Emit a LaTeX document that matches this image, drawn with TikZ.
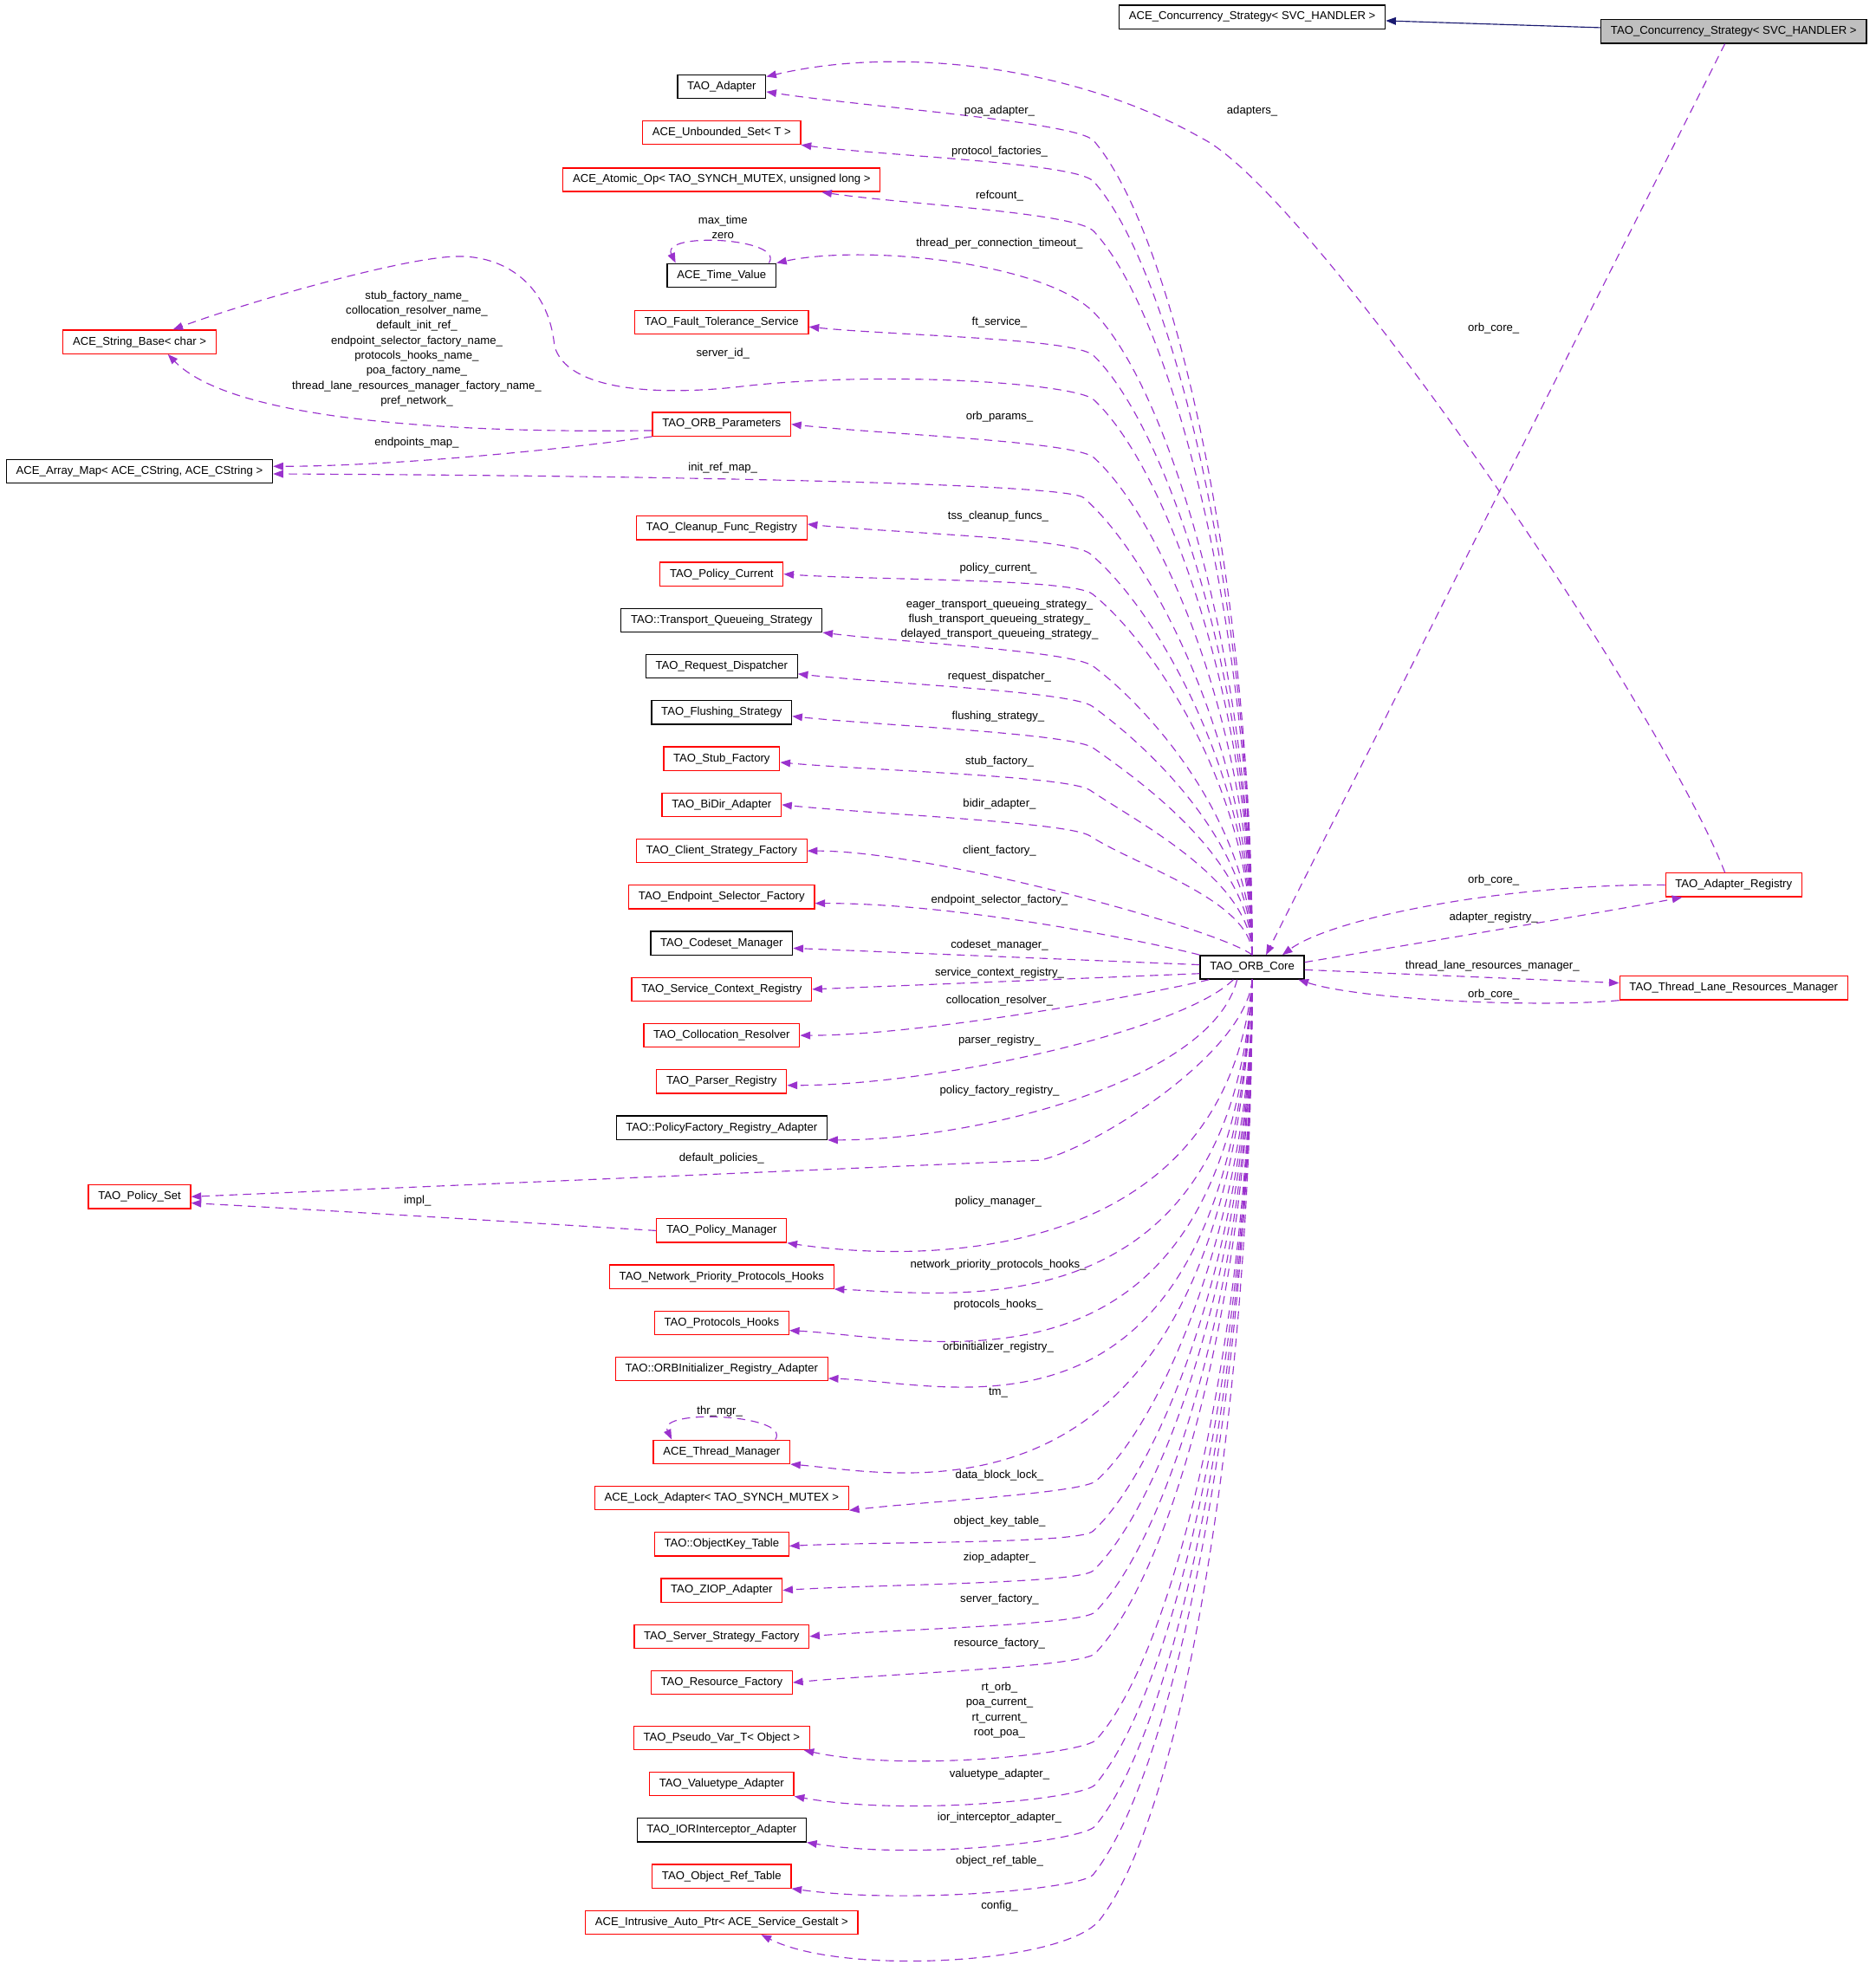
\documentclass[tikz,border=0pt]{standalone}
\usepackage{fontspec}
\setmainfont{Liberation Sans}
\usetikzlibrary{arrows.meta,positioning}
\definecolor{orchid}{HTML}{9A32CD}
\definecolor{navy}{HTML}{191970}
\definecolor{shaded}{HTML}{BFBFBF}
\begin{document}
\begin{tikzpicture}[x=0.2mm, y=-0.2mm, node distance={7.34mm}, font=\fontsize{5.15}{6.8}\selectfont,
			main/.style = {draw, rectangle, line width=0.5pt, minimum height=3.75mm, inner xsep=1.55mm, inner ysep=0pt},
			miss/.style = {main, draw=red},
			sel/.style = {main, fill=shaded},
			dep/.style = {draw=orchid, line width=0.45pt, dash pattern=on 1.3mm off 0.9mm, -{Triangle[length=1.6mm,width=1.2mm]}},
			inh/.style = {draw=navy, line width=0.45pt, -{Triangle[length=1.6mm,width=1.2mm]}},
			word/.style = {inner sep=0pt, align=center}]

			\useasboundingbox (0,0) rectangle (1492,1568);

			\node[main] (acs) at (996,13.5) {ACE\_Concurrency\_Strategy< SVC\_HANDLER >};
			\node[sel] (tcs) at (1379,25) {TAO\_Concurrency\_Strategy< SVC\_HANDLER >};
			\node[main] (core) at (996,769.5) {TAO\_ORB\_Core};
			\node[miss] (areg) at (1379,704) {TAO\_Adapter\_Registry};
			\node[miss] (tlrm) at (1379,786) {TAO\_Thread\_Lane\_Resources\_Manager};
			\node[miss] (strbase) at (111,272) {ACE\_String\_Base< char >};
			\node[main] (amap) at (111,375) {ACE\_Array\_Map< ACE\_CString, ACE\_CString >};
			\node[miss] (pset) at (111,952) {TAO\_Policy\_Set};

			\node[main] (tadapter) at (574,69) {TAO\_Adapter};
			\node[miss] (uset) at (574,105.5) {ACE\_Unbounded\_Set< T >};
			\node[miss] (atomic) at (574,143) {ACE\_Atomic\_Op< TAO\_SYNCH\_MUTEX, unsigned long >};
			\node[main] (timev) at (574,219) {ACE\_Time\_Value};
			\node[miss] (fts) at (574,256.5) {TAO\_Fault\_Tolerance\_Service};
			\node[miss] (orbp) at (574,337.5) {TAO\_ORB\_Parameters};
			\node[miss] (cleanup) at (574,420) {TAO\_Cleanup\_Func\_Registry};
			\node[miss] (pcur) [below of=cleanup] {TAO\_Policy\_Current};
			\node[main] (tqs) [below of=pcur] {TAO::Transport\_Queueing\_Strategy};
			\node[main] (reqd) [below of=tqs] {TAO\_Request\_Dispatcher};
			\node[main] (flush) [below of=reqd] {TAO\_Flushing\_Strategy};
			\node[miss] (stubf) [below of=flush] {TAO\_Stub\_Factory};
			\node[miss] (bidir) [below of=stubf] {TAO\_BiDir\_Adapter};
			\node[miss] (client) [below of=bidir] {TAO\_Client\_Strategy\_Factory};
			\node[miss] (eps) [below of=client] {TAO\_Endpoint\_Selector\_Factory};
			\node[main] (codeset) [below of=eps] {TAO\_Codeset\_Manager};
			\node[miss] (sctx) [below of=codeset] {TAO\_Service\_Context\_Registry};
			\node[miss] (coll) [below of=sctx] {TAO\_Collocation\_Resolver};
			\node[miss] (parser) [below of=coll] {TAO\_Parser\_Registry};
			\node[main] (pfra) [below of=parser] {TAO::PolicyFactory\_Registry\_Adapter};
			\node[miss] (pmgr) at (574,979) {TAO\_Policy\_Manager};
			\node[miss] (nph) [below of=pmgr] {TAO\_Network\_Priority\_Protocols\_Hooks};
			\node[miss] (phooks) [below of=nph] {TAO\_Protocols\_Hooks};
			\node[miss] (orbinit) [below of=phooks] {TAO::ORBInitializer\_Registry\_Adapter};
			\node[miss] (tmgr) at (574,1155) {ACE\_Thread\_Manager};
			\node[miss] (lock) [below of=tmgr] {ACE\_Lock\_Adapter< TAO\_SYNCH\_MUTEX >};
			\node[miss] (okt) [below of=lock] {TAO::ObjectKey\_Table};
			\node[miss] (ziop) [below of=okt] {TAO\_ZIOP\_Adapter};
			\node[miss] (ssf) [below of=ziop] {TAO\_Server\_Strategy\_Factory};
			\node[miss] (rfac) [below of=ssf] {TAO\_Resource\_Factory};
			\node[miss] (pvar) at (574,1382.5) {TAO\_Pseudo\_Var\_T< Object >};
			\node[miss] (vta) [below of=pvar] {TAO\_Valuetype\_Adapter};
			\node[main] (iora) [below of=vta] {TAO\_IORInterceptor\_Adapter};
			\node[miss] (ort) [below of=iora] {TAO\_Object\_Ref\_Table};
			\node[miss] (iap) [below of=ort] {ACE\_Intrusive\_Auto\_Ptr< ACE\_Service\_Gestalt >};

			\draw[inh] ([yshift=0.6mm]tcs.west) -- ([yshift=-0.6mm]acs.east);
			\draw[dep] ([xshift=-1.4mm]tcs.south) -- ([xshift=2.2mm]core.north);
			\draw[dep] ([xshift=-1.4mm]areg.north) .. controls (1320,560) and (1041,152) .. (956,110) .. controls (860,55) and (720,35) .. ([yshift=1.6mm]tadapter.east);

			\draw[dep] (core.north) .. controls +(0,-292) and +(65,76) .. (870,112) .. controls +(-13,-15) and +(78,12) .. ([yshift=-0.8mm]tadapter.east);
			\draw[dep] (core.north) .. controls +(0,-277) and +(64,72) .. (870,144.5) .. controls +(-13,-15) and +(70,9) .. (uset.south east);
			\draw[dep] (core.north) .. controls +(0,-259) and +(63,68) .. (870,184) .. controls +(-14,-15) and +(64.5,9.6) .. ([xshift=-9.4mm]atomic.south east);
			\draw[dep] (core.north) .. controls +(0,-230) and +(60,61) .. (870,248.5) .. controls +(-40,-40) and +(70,-15) .. (timev.north east);
			\draw[dep] (core.north) .. controls +(0,-215) and +(59,58) .. (870,283) .. controls +(-14,-14) and +(68,7) .. ([yshift=-0.7mm]fts.east);
			\draw[dep] (core.north) .. controls +(0,-199) and +(58,54) .. (870,318) .. controls +(-14,-13) and (700,294) .. (585,308) .. controls (520,315) and (450,310) .. (441,275) .. controls (436,225) and (400,203) .. (363,204) .. controls (320,205) and (198,240) .. ([xshift=5.3mm]strbase.north);
			\draw[dep] (core.north) .. controls +(0,-178) and +(55.5,50) .. (870,364) .. controls +(-15,-13) and +(72.6,8) .. (orbp.east);
			\draw[dep] (core.north) .. controls +(0,-164) and +(54,47) .. (862,396) .. controls +(-15,-13) and (450,378) .. ([yshift=-0.4mm]amap.east);
			\draw[dep] (core.north) .. controls +(0,-144) and +(51.6,42.7) .. (867,440.5) .. controls +(-15.4,-12.7) and +(68,7) .. ([yshift=0.6mm]cleanup.east);
			\draw[dep] (core.north) .. controls +(0,-129) and +(49.8,39.8) .. (869,472.6) .. controls +(-15.6,-12.5) and +(74,5) .. (pcur.east);
			\draw[dep] (core.north) .. controls +(0,-103.5) and +(46.4,34.8) .. (869.5,530) .. controls +(-16,-12) and +(65,8) .. (tqs.south east);
			\draw[dep] (core.north) .. controls +(0,-89) and +(44.4,32.1) .. (869,562) .. controls +(-16,-12) and +(70.5,7.8) .. ([yshift=-1.2mm]reqd.east);
			\draw[dep] (core.north) .. controls +(0,-74) and +(42.2,29.6) .. (869.5,595) .. controls +(-16.4,-11.5) and +(72,7.5) .. ([yshift=-0.6mm]flush.east);
			\draw[dep] (core.north) .. controls +(0,-59) and +(39.8,26.8) .. (867,628.6) .. controls +(-16.6,-11.2) and +(74,6.5) .. ([yshift=-0.6mm]stubf.east);
			\draw[dep] (core.north) .. controls +(0,-43) and +(37.4,24.2) .. (867,665) .. controls +(-16.8,-10.9) and +(74,7.5) .. (bidir.east);
			\draw[dep] (core.north) .. controls +(-25,-20) and +(100,0) .. (client.east);
			\draw[dep] (core.north west) .. controls +(-30,-8) and +(120,0) .. ([yshift=-1mm]eps.east);
			\draw[dep] ([yshift=0.4mm]core.west) -- ([yshift=-0.8mm]codeset.east);
			\draw[dep] ([yshift=-1mm]core.west) -- (sctx.east);
			\draw[dep] ([xshift=1.5mm]core.south west) .. controls +(-40,10) and +(100,0) .. (coll.east);
			\draw[dep] ([xshift=-3mm]core.south) .. controls +(-40,40) and +(120,0) .. ([yshift=-0.6mm]parser.east);
			\draw[dep] ([xshift=-2.4mm]core.south) .. controls +(-20,80) and +(120,0) .. (pfra.south east);
			\draw[dep] (core.south) .. controls +(-5,60) and +(40,-8) .. (827,923) -- (pset.east);
			\draw[dep] (core.south) .. controls +(-21,231) and +(100,15) .. (pmgr.south east);
			\draw[dep] (core.south) .. controls +(-16,281) and +(97,4) .. (nph.south east);
			\draw[dep] (core.south) .. controls +(-18,351) and +(113,6) .. ([yshift=-1.2mm]phooks.east);
			\draw[dep] (core.south) .. controls +(-20,391) and +(101,3) .. ([yshift=-1.5mm]orbinit.east);
			\draw[dep] (core.south) .. controls +(-21,451) and +(93,8) .. (tmgr.south east);
			\draw[dep] (core.south) .. controls +(0,180) and +(55.7,-50.2) .. (872,1178) .. controls +(-11.1,10) and +(58.5,-7) .. (lock.south east);
			\draw[dep] (core.south) .. controls +(0,198) and +(57.6,-54) .. (869.5,1218) .. controls +(-10.9,10.3) and +(72.5,-3.6) .. ([yshift=-0.3mm]okt.east);
			\draw[dep] (core.south) .. controls +(0,212) and +(58.9,-57) .. (869.5,1249.5) .. controls +(-10.8,10.4) and +(74.4,-4.7) .. (ziop.east);
			\draw[dep] (core.south) .. controls +(0,226.5) and +(60.2,-60.4) .. (871,1282.4) .. controls +(-10.6,10.6) and +(68.4,-5.8) .. (ssf.east);
			\draw[dep] (core.south) .. controls +(0,241) and +(61.4,-63.9) .. (871,1315.4) .. controls +(-10.4,10.8) and +(72.5,-6.9) .. (rfac.east);
			\draw[dep] (core.south) .. controls +(0,272) and +(63.7,-71.2) .. (872,1384) .. controls +(-10,11.2) and (720,1410) .. ([xshift=-1mm]pvar.south east);
			\draw[dep] (core.south) .. controls +(0,288) and +(64.6,-75) .. (871,1419.8) .. controls +(-9.8,11.4) and (720,1445) .. (vta.south east);
			\draw[dep] (core.south) .. controls +(0,303) and +(65.3,-78.3) .. (871,1452.8) .. controls +(-9.6,11.5) and (730,1480) .. (iora.south east);
			\draw[dep] (core.south) .. controls +(0,320) and +(66,-83) .. (869.6,1491.2) .. controls +(-9.4,11.7) and (720,1515) .. (ort.south east);
			\draw[dep] (core.south) .. controls +(0,337) and +(67,-87) .. (875,1527) .. controls +(-27.5,35.6) and (670,1572) .. ([xshift=6.3mm]iap.south);

			\draw[dep] (areg.west) .. controls (1200,703) and (1060,730) .. ([xshift=4.8mm]core.north);
			\draw[dep] ([yshift=0.8mm]core.east) .. controls (1100,755) and (1280,725) .. ([xshift=-8.2mm]areg.south);
			\draw[dep] ([yshift=-0.4mm]core.east) -- ([yshift=0.8mm]tlrm.west);
			\draw[dep] (tlrm.south west) .. controls (1220,802) and (1080,795) .. ([xshift=-1mm]core.south east);

			\draw[dep] ([yshift=-1mm]orbp.west) .. controls (330,345) and (180,330) .. ([xshift=4.5mm]strbase.south);
			\draw[dep] (orbp.south west) .. controls (430,360) and (300,371) .. ([yshift=0.8mm]amap.east);
			\draw[dep] (pmgr.west) .. controls (440,974) and (280,964) .. ([yshift=-1mm]pset.east);
			\draw[dep] ([xshift=-1.2mm]timev.north east) .. controls +(13,-20) and +(-12,-25) .. ([xshift=1.4mm]timev.north west);
			\draw[dep] ([xshift=-2.4mm]tmgr.north east) .. controls +(13,-20) and +(-12,-25) .. ([xshift=3mm]tmgr.north west);

			\node[word] (ladapters) at (996,88) {adapters\_};
			\node[word] (lcsorb) at (1188,261) {orb\_core\_};
			\node[word] (lpoa) at (795,88) {poa\_adapter\_};
			\node[word] (lproto) at (795,121) {protocol\_factories\_};
			\node[word] (lref) at (795,156) {refcount\_};
			\node[word] (ltime) at (575,181) {max\_time\\zero};
			\node[word] (ltpct) at (795,193.5) {thread\_per\_connection\_timeout\_};
			\node[word] (lft) at (795,256.5) {ft\_service\_};
			\node[word] (lnames) at (331.5,277.4) {stub\_factory\_name\_\\collocation\_resolver\_name\_\\default\_init\_ref\_\\endpoint\_selector\_factory\_name\_\\protocols\_hooks\_name\_\\poa\_factory\_name\_\\thread\_lane\_resources\_manager\_factory\_name\_\\pref\_network\_};
			\node[word] (lsid) at (575,281) {server\_id\_};
			\node[word] (lparams) at (795,331.6) {orb\_params\_};
			\node[word] (lemap) at (331.5,352.2) {endpoints\_map\_};
			\node[word] (lirm) at (575,372) {init\_ref\_map\_};
			\node[word] (ltss) at (794,411) {tss\_cleanup\_funcs\_};
			\node[word] (lpcur) at (794,452) {policy\_current\_};
			\node[word] (ltqs) at (795,492.8) {eager\_transport\_queueing\_strategy\_\\flush\_transport\_queueing\_strategy\_\\delayed\_transport\_queueing\_strategy\_};
			\node[word] (lreqd) at (795,538.4) {request\_dispatcher\_};
			\node[word] (lflush) at (794,570) {flushing\_strategy\_};
			\node[word] (lstub) at (795,606) {stub\_factory\_};
			\node[word] (lbidir) at (795,640) {bidir\_adapter\_};
			\node[word] (lclient) at (795,677) {client\_factory\_};
			\node[word] (leps) at (795,716.5) {endpoint\_selector\_factory\_};
			\node[word] (lcodeset) at (795,752) {codeset\_manager\_};
			\node[word] (lsctx) at (795,774) {service\_context\_registry\_};
			\node[word] (lcoll) at (795,796) {collocation\_resolver\_};
			\node[word] (lparser) at (795,828) {parser\_registry\_};
			\node[word] (lpfra) at (795,868) {policy\_factory\_registry\_};
			\node[word] (ldefpol) at (574,921.5) {default\_policies\_};
			\node[word] (limpl) at (332,955.5) {impl\_};
			\node[word] (lpmgr) at (794,956) {policy\_manager\_};
			\node[word] (lnph) at (794,1006) {network\_priority\_protocols\_hooks\_};
			\node[word] (lphooks) at (794,1038) {protocols\_hooks\_};
			\node[word] (lorbinit) at (794,1072) {orbinitializer\_registry\_};
			\node[word] (lthr) at (572.5,1122.7) {thr\_mgr\_};
			\node[word] (ltm) at (794,1108) {tm\_};
			\node[word] (llock) at (795,1174) {data\_block\_lock\_};
			\node[word] (lokt) at (795,1210.5) {object\_key\_table\_};
			\node[word] (lziop) at (795,1239.3) {ziop\_adapter\_};
			\node[word] (lssf) at (795,1272.3) {server\_factory\_};
			\node[word] (lrfac) at (795,1307.2) {resource\_factory\_};
			\node[word] (lpvar) at (795,1360.7) {rt\_orb\_\\poa\_current\_\\rt\_current\_\\root\_poa\_};
			\node[word] (lvta) at (795,1411.5) {valuetype\_adapter\_};
			\node[word] (liora) at (795,1446) {ior\_interceptor\_adapter\_};
			\node[word] (lort) at (795,1480.2) {object\_ref\_table\_};
			\node[word] (lconfig) at (795,1516.5) {config\_};
			\node[word] (lrorb) at (1188,700.4) {orb\_core\_};
			\node[word] (lareg) at (1188,729.7) {adapter\_registry\_};
			\node[word] (ltlrm) at (1187,768.7) {thread\_lane\_resources\_manager\_};
			\node[word] (ltorb) at (1188,791.3) {orb\_core\_};
		\end{tikzpicture}
\end{document}
